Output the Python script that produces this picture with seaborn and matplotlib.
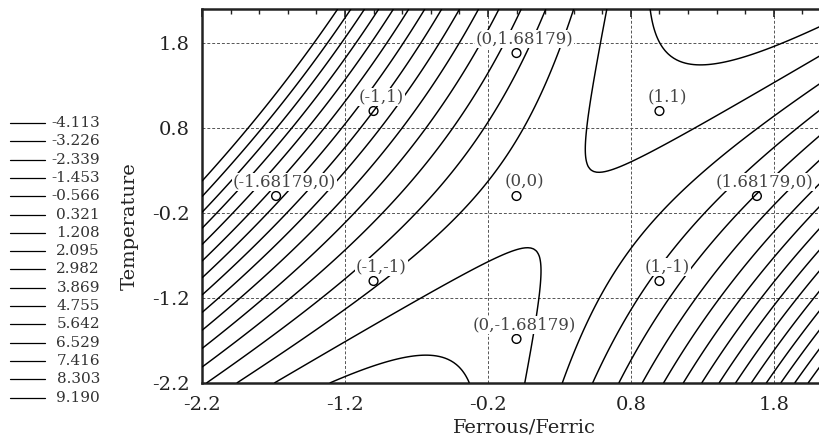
import numpy as np
import pandas as pd
import seaborn as sns
import matplotlib
matplotlib.use('Agg')
import matplotlib.pyplot as plt
from matplotlib.lines import Line2D
from matplotlib.ticker import MultipleLocator

# central composite design points (coded units) and estimated responses
pt_x = [-1, 1, -1, 1, -1.68179, 1.68179, 0, 0, 0]
pt_y = [-1, -1, 1, 1, 0, 0, -1.68179, 1.68179, 0]
pt_z = [-2.158, -1.197, 2.983, -3.604, 4.234, -0.496, -3.447, -1.149, -2.876]
pt_lab = ['(-1,-1)', '(1,-1)', '(-1,1)', '(1.1)', '(-1.68179,0)', '(1.68179,0)',
          '(0,-1.68179)', '(0,1.68179)', '(0,0)']

levels = [-4.113, -3.226, -2.339, -1.453, -0.566, 0.321, 1.208, 2.095,
          2.982, 3.869, 4.755, 5.642, 6.529, 7.416, 8.303, 9.190]

ticks = [-2.2, -1.2, -0.2, 0.8, 1.8]


def quad_terms(x, y):
    x = np.asarray(x, dtype=float)
    y = np.asarray(y, dtype=float)
    return np.stack([np.ones_like(x), x, y, x * x, y * y, x * y], axis=-1)


def main(out_file='out.png'):
    df = pd.DataFrame({'x': pt_x, 'y': pt_y, 'z': pt_z, 'label': pt_lab})

    # second order response surface fitted to the design points
    coef, *_ = np.linalg.lstsq(quad_terms(df['x'], df['y']), df['z'].values, rcond=None)

    gx = np.linspace(-2.2, 2.2, 221)
    X, Y = np.meshgrid(gx, gx)
    Z = quad_terms(X, Y) @ coef

    sns.set_style('white')
    plt.rcParams['font.family'] = ['DejaVu Serif']

    fig = plt.figure(figsize=(8.19, 4.4), dpi=100)
    # axes run a little past the right edge of the canvas, like the original
    ax = fig.add_axes([202 / 819, 57 / 440, 629 / 819, 374 / 440])

    ax.contour(X, Y, Z, levels=levels, colors='black', linewidths=1.05,
               negative_linestyles='solid', zorder=3)

    ax.set_xlim(-2.2, 2.2)
    ax.set_ylim(-2.2, 2.2)
    ax.set_xticks(ticks)
    ax.set_yticks(ticks)
    ax.set_xticklabels([f'{v:.1f}' for v in ticks])
    ax.set_yticklabels([f'{v:.1f}' for v in ticks])
    ax.xaxis.set_minor_locator(MultipleLocator(0.2))
    ax.yaxis.set_minor_locator(MultipleLocator(0.2))
    ax.tick_params(which='both', direction='in', top=True, right=True,
                   labelsize=14, pad=9, color='#222222', labelcolor='#222222')
    ax.tick_params(which='major', length=6, width=1.2)
    ax.tick_params(which='minor', length=3.5, width=1.0)
    ax.grid(True, ls=(0, (3, 2)), color='#555555', lw=0.7, zorder=1)
    for s in ax.spines.values():
        s.set_linewidth(1.8)
        s.set_color('#222222')

    sns.scatterplot(data=df, x='x', y='y', ax=ax, marker='o', s=40,
                    facecolor='none', edgecolor='black', linewidth=1.0, zorder=5)
    ax.set_xlabel('')
    ax.set_ylabel('')
    for x, y, lab in zip(df['x'], df['y'], df['label']):
        ax.annotate(lab, (x, y), xytext=(8, 14), textcoords='offset pixels',
                    ha='center', va='center', fontsize=12, color='#444444',
                    bbox=dict(boxstyle='square,pad=0.05', fc='white', ec='none'), zorder=6)

    fig.text(524 / 819, 1 - 427 / 440, 'Ferrous/Ferric', fontsize=14,
             ha='center', va='center', color='#222222')
    fig.text(130 / 819, 1 - 226 / 440, 'Temperature', fontsize=14,
             ha='center', va='center', rotation=90, color='#222222')

    # level key on the left
    for i, lv in enumerate(levels):
        yy = 1 - (123 + i * 18.3) / 440
        fig.add_artist(Line2D([10 / 819, 45 / 819], [yy, yy], color='black', lw=0.9))
        fig.text(100 / 819, yy, f'{lv:.3f}', fontsize=11, ha='right', va='center',
                 color='#333333')

    fig.savefig(out_file, facecolor='white')


if __name__ == '__main__':
    main()
